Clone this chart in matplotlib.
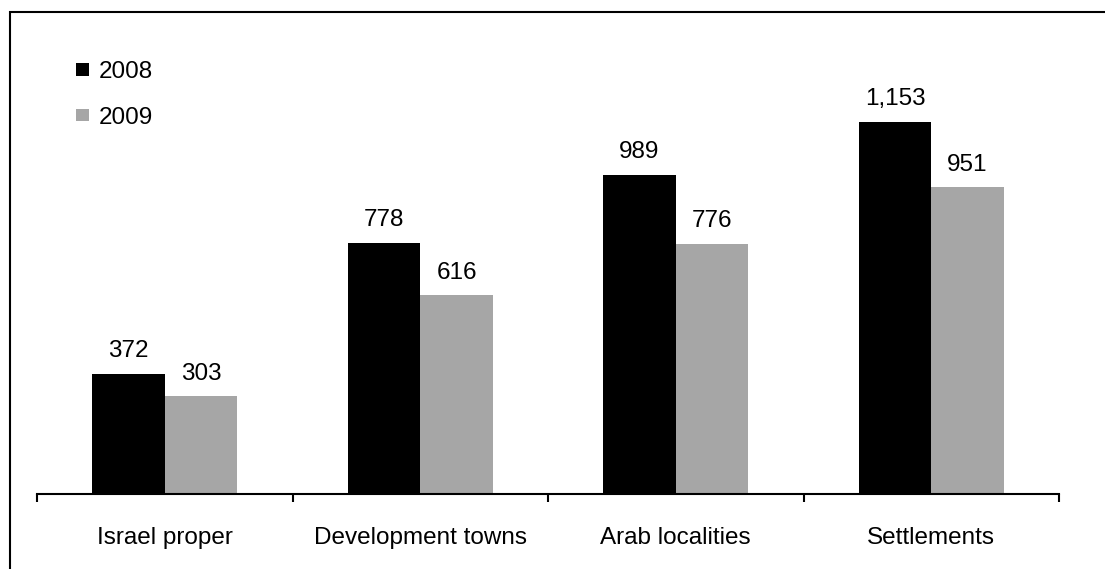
import matplotlib.pyplot as plt
import numpy as np
from matplotlib.patches import Rectangle

plt.rcParams['font.family'] = ['Liberation Sans', 'DejaVu Sans']

categories = ["Israel proper", "Development towns", "Arab localities", "Settlements"]
vals_2008 = [372, 778, 989, 1153]
vals_2009 = [303, 616, 776, 951]
years = ["2008", "2009"]

W, H = 1105, 569
fs = 17.5
fig = plt.figure(figsize=(W / 100, H / 100), dpi=100)
ax = fig.add_axes([37 / W, (H - 494) / H, 1022 / W, 464.4 / H])

x = np.arange(len(categories))
bw = 0.284
b1 = ax.bar(x - bw / 2, vals_2008, bw, color="black", label=years[0])
b2 = ax.bar(x + bw / 2, vals_2009, bw, color="#a6a6a6", label=years[1])

for bars, vals in ((b1, vals_2008), (b2, vals_2009)):
    for r, v in zip(bars, vals):
        ax.annotate(f"{v:,}", (r.get_x() + r.get_width() / 2, v),
                    xytext=(0, 12), textcoords="offset points",
                    ha="center", va="baseline", fontsize=fs)

ax.set_xlim(-0.5, len(categories) - 0.5)
ax.set_ylim(0, 1440)
ax.set_yticks([])
for s in ("top", "right", "left"):
    ax.spines[s].set_visible(False)
ax.spines["bottom"].set_linewidth(1.5)

# boundary ticks between groups, labels at group centres
ax.set_xticks(np.arange(len(categories) + 1) - 0.5)
ax.set_xticklabels([])
ax.tick_params(axis="x", which="major", length=6, width=1.5, direction="out")
ax.set_xticks(x, minor=True)
ax.set_xticklabels(categories, minor=True, fontsize=fs)
ax.tick_params(axis="x", which="minor", length=0, pad=23.5)

leg = ax.legend(loc="upper left", bbox_to_anchor=(76 / W, 1 - 61 / H),
                bbox_transform=fig.transFigure, frameon=False, fontsize=fs,
                handlelength=0.55, handleheight=0.42, handletextpad=0.4,
                labelspacing=0.97, borderaxespad=0, borderpad=0)

# outer frame around the chart area
fig.patches.append(Rectangle((10 / W, -0.1), 1.2, 1 - 12 / H + 0.1,
                             transform=fig.transFigure, fill=False,
                             edgecolor="black", linewidth=1.5))

fig.savefig("out.png", dpi=100)
